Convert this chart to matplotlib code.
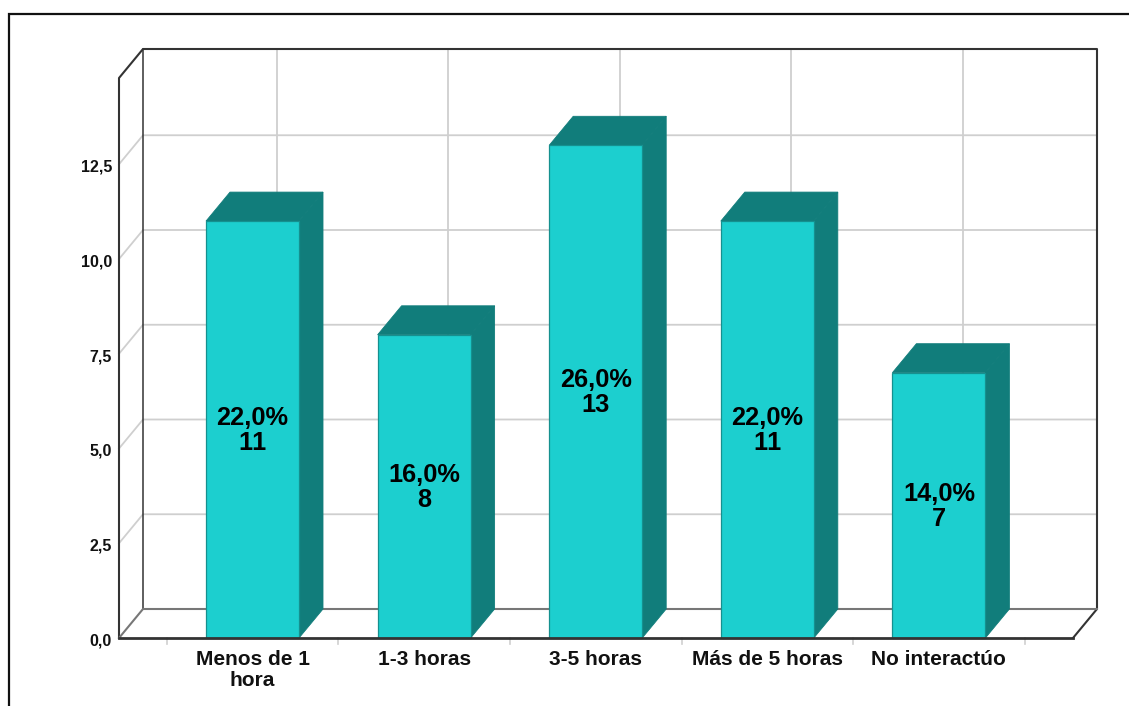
import matplotlib
matplotlib.use("Agg")
import matplotlib.pyplot as plt
from matplotlib.patches import Polygon

plt.rcParams["font.family"] = ["Liberation Sans", "DejaVu Sans"]
plt.rcParams["text.kerning_factor"] = 6

# ---- Data ----
categories = ["Menos de 1\nhora", "1-3 horas", "3-5 horas", "Más de 5 horas", "No interactúo"]
counts = [11, 8, 13, 11, 7]
percents = ["22,0%", "16,0%", "26,0%", "22,0%", "14,0%"]
y_ticks = [0, 2.5, 5, 7.5, 10, 12.5]
y_labels = ["0,0", "2,5", "5,0", "7,5", "10,0", "12,5"]

# ---- Pixel geometry of the fake 3D box ----
W, H = 1129, 706
px_cat = 171.6      # pixels per category
px_val = 37.9       # pixels per count
x0_px, y0_px = 252.5, 638
dx = 24 / px_cat    # depth offset in data units
dy = 29 / px_val
bw = 93 / px_cat
y_top = (638 - 78) / px_val
x_left = (119 - x0_px) / px_cat
x_right = (1073 - x0_px) / px_cat

FRONT = "#1ccfcf"
DARK = "#117d7b"
GRID = "#cfcfcf"
LINE = "#333333"

fig = plt.figure(figsize=(W / 100, H / 100), dpi=100)
ax = fig.add_axes([0, 0, 1, 1])
ax.set_xlim(-x0_px / px_cat, (W - x0_px) / px_cat)
ax.set_ylim(-(H - y0_px) / px_val, y0_px / px_val)
ax.axis("off")

# outer frame (left and top only, the image is cropped)
fx = (9 - x0_px) / px_cat
fy = (y0_px - 14) / px_val
ax.plot([fx, fx, ax.get_xlim()[1]], [ax.get_ylim()[0], fy, fy], color="#111111", lw=1.6, zorder=1,
        solid_joinstyle="miter")

# grid on the walls
for v in y_ticks[1:]:
    ax.plot([x_left, x_left + dx, x_right + dx], [v, v + dy, v + dy], color=GRID, lw=1.3, zorder=1)
for i in range(len(categories)):
    ax.plot([i + dx, i + dx], [dy, y_top + dy], color=GRID, lw=1.3, zorder=1)

# box outline
ax.plot([x_left, x_left, x_left + dx, x_right + dx, x_right + dx, x_right],
        [0, y_top, y_top + dy, y_top + dy, dy, 0], color=LINE, lw=1.5, zorder=2)
ax.plot([x_left + dx, x_left + dx], [dy, y_top + dy], color=LINE, lw=1.1, zorder=2)
ax.plot([x_left, x_left + dx, x_right + dx], [0, dy, dy], color="#777777", lw=1.5, zorder=2)

# bars
for i, (c, p) in enumerate(zip(counts, percents)):
    l, r = i - bw / 2, i + bw / 2
    ax.add_patch(Polygon([(r, 0), (r + dx, dy), (r + dx, c + dy), (r, c)],
                         fc=DARK, ec=DARK, lw=0.6, zorder=3))
    ax.add_patch(Polygon([(l, c), (l + dx, c + dy), (r + dx, c + dy), (r, c)],
                         fc=DARK, ec=DARK, lw=0.6, zorder=3))
    ax.add_patch(Polygon([(l, 0), (r, 0), (r, c), (l, c)],
                         fc=FRONT, ec="#15908f", lw=0.9, zorder=4))
    ax.text(i, c / 2 - 1 / px_val, f"{p}\n{c}", ha="center", va="center", fontsize=18.3,
            fontweight="bold", color="black", linespacing=1.05, zorder=5)

# front floor edge, on top of the bars
ax.plot([x_left, x_right], [0, 0], color=LINE, lw=2, zorder=6)

# y tick labels
for v, s in zip(y_ticks, y_labels):
    ax.text((112 - x0_px) / px_cat, v - 3 / px_val, s, ha="right", va="center",
            fontsize=11.5, fontweight="bold", color="#111111")

# x ticks between the categories
for i in range(len(categories) + 1):
    ax.plot([i - 0.5, i - 0.5], [0, -6 / px_val], color=GRID, lw=1.2, zorder=1)

for i, s in enumerate(categories):
    ax.text(i, -(650 - y0_px) / px_val, s, ha="center", va="top", fontsize=15,
            fontweight="bold", color="#111111", linespacing=1.15)

fig.savefig("out.png", dpi=100, facecolor="white")
